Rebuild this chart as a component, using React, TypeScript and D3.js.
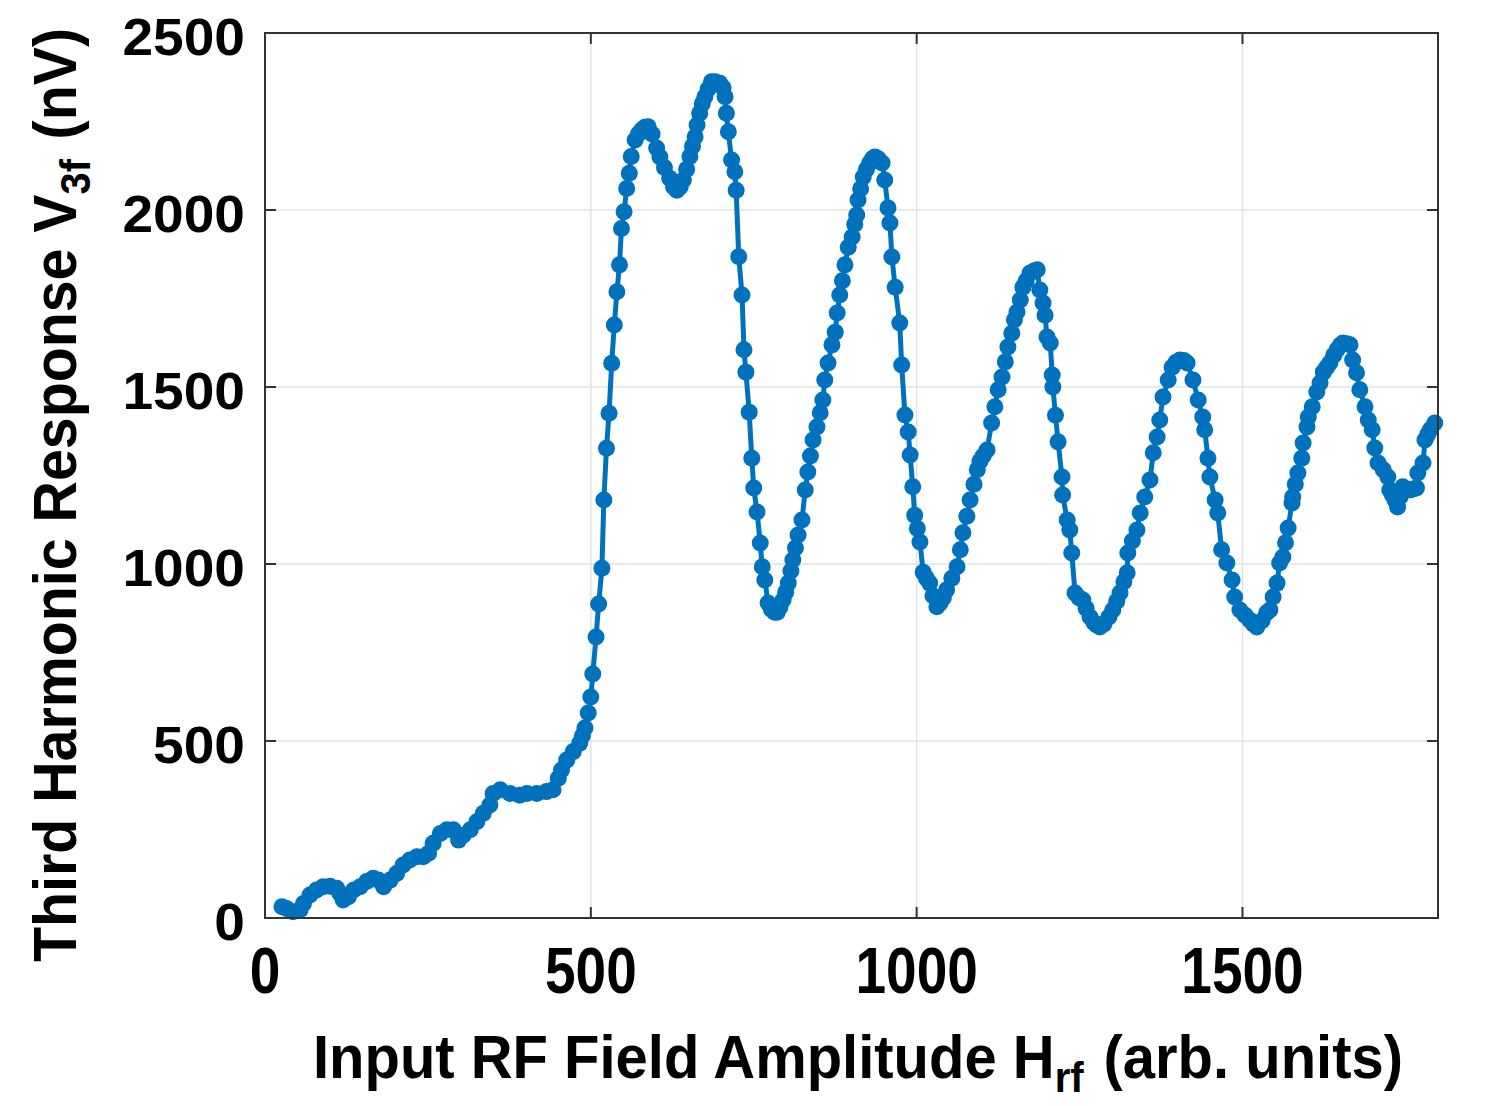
import React from 'react';
import * as d3 from 'd3';

type Pt = [number, number];

// H_rf (arb. units), V3f (nV), split by region of the curve
const lowRamp: Pt[] = [
  [26, 32], [33, 27], [43, 18], [54, 23], [59, 41], [69, 65], [79, 79], [89, 88], [100, 90],
  [110, 84], [115, 70], [120, 51], [128, 60], [136, 79], [146, 88], [156, 103], [166, 112],
  [174, 107], [182, 88], [192, 107], [202, 126], [212, 150], [222, 164], [233, 173], [243, 173],
  [251, 183], [258, 211], [269, 239], [279, 249], [289, 249], [297, 220], [304, 234], [315, 249],
  [325, 272], [335, 296], [345, 319], [350, 352], [361, 362], [376, 352], [391, 347], [402, 352],
  [417, 352], [432, 357], [442, 362], [450, 395], [455, 418], [463, 446], [473, 470], [483, 494],
];

const firstPeaks: Pt[] = [
  [487, 515], [491, 537], [496, 579], [500, 624], [503, 689], [508, 794], [512, 887], [517, 988],
  [520, 1181], [524, 1327], [528, 1426], [532, 1567], [536, 1675], [540, 1769], [544, 1845],
  [547, 1948], [551, 1995], [555, 2061], [559, 2104], [562, 2151], [568, 2198], [573, 2215],
  [578, 2226], [583, 2234], [588, 2235], [594, 2215], [601, 2175], [606, 2150], [613, 2120],
  [621, 2090], [627, 2065], [632, 2056], [637, 2065], [642, 2085], [647, 2115], [652, 2151],
  [656, 2180], [660, 2207], [663, 2240], [667, 2273], [671, 2300], [675, 2320], [680, 2342],
  [685, 2362], [691, 2362], [698, 2358], [703, 2345], [706, 2320], [708, 2273], [711, 2221],
  [716, 2141], [721, 2108], [723, 2056], [727, 1868],
];

const secondPeak: Pt[] = [
  [732, 1760], [735, 1605], [738, 1542], [743, 1429], [747, 1299], [750, 1215], [755, 1147],
  [760, 1059], [763, 992], [767, 955], [772, 890], [777, 872], [782, 864], [786, 864], [790, 878],
  [795, 898], [799, 920], [803, 946], [807, 980], [810, 1011], [814, 1045], [818, 1082], [824, 1124],
  [829, 1209], [833, 1260], [837, 1305], [841, 1350], [847, 1387], [852, 1427], [856, 1463],
  [859, 1520], [864, 1568], [870, 1619], [875, 1655], [878, 1709], [882, 1760], [886, 1800],
  [890, 1845], [895, 1895], [901, 1924], [905, 1960], [908, 1986], [910, 2028], [914, 2060],
  [918, 2093], [923, 2115], [928, 2133], [932, 2145], [936, 2150], [941, 2145], [947, 2133],
  [951, 2085], [956, 2006], [959, 1963], [962, 1867], [967, 1782], [974, 1681], [977, 1562],
  [982, 1421], [987, 1373], [990, 1308], [994, 1218], [997, 1138], [1001, 1100], [1005, 1062],
  [1010, 977], [1015, 960], [1020, 946], [1025, 910], [1031, 879],
];

const thirdPeak: Pt[] = [
  [1036, 890], [1041, 905], [1046, 927], [1054, 960], [1062, 992], [1067, 1040], [1071, 1088],
  [1077, 1135], [1082, 1181], [1088, 1225], [1093, 1266], [1097, 1290], [1102, 1305], [1108, 1322],
  [1115, 1398], [1120, 1444], [1125, 1492], [1131, 1528], [1136, 1571], [1140, 1613], [1146, 1652],
  [1150, 1690], [1154, 1712], [1159, 1746], [1163, 1782], [1168, 1800], [1174, 1822], [1180, 1828],
  [1185, 1831], [1189, 1774], [1194, 1737], [1197, 1703], [1200, 1641], [1205, 1624], [1208, 1534],
  [1209, 1500], [1213, 1420], [1217, 1345], [1223, 1246], [1224, 1195], [1231, 1124], [1235, 1096],
  [1238, 1031], [1243, 918], [1249, 905], [1255, 898], [1260, 875], [1266, 850], [1272, 835],
  [1276, 828], [1281, 822],
];

const fourthPeak: Pt[] = [
  [1287, 830], [1295, 850], [1301, 870], [1307, 895], [1312, 918], [1318, 950], [1323, 975],
  [1324, 1031], [1331, 1065], [1338, 1096], [1343, 1144], [1350, 1189], [1358, 1237], [1363, 1314],
  [1369, 1359], [1373, 1407], [1378, 1472], [1386, 1520], [1392, 1556], [1398, 1570], [1404, 1576],
  [1410, 1575], [1415, 1568], [1424, 1520], [1432, 1463], [1439, 1415], [1442, 1379], [1447, 1299],
  [1450, 1246], [1458, 1181], [1462, 1144], [1468, 1040], [1476, 1003], [1484, 955], [1488, 907],
  [1496, 870], [1504, 855], [1511, 842], [1517, 830], [1522, 822], [1530, 840], [1537, 862],
];

const fifthPeak: Pt[] = [
  [1542, 870], [1547, 907], [1553, 946], [1557, 1003], [1562, 1020], [1566, 1060], [1570, 1102],
  [1576, 1172], [1577, 1189], [1581, 1225], [1585, 1257], [1591, 1299], [1593, 1342], [1599, 1387],
  [1601, 1415], [1607, 1444], [1614, 1486], [1619, 1511], [1624, 1542], [1629, 1555], [1634, 1568],
  [1640, 1590], [1645, 1605], [1650, 1618], [1654, 1624], [1660, 1622], [1665, 1619], [1669, 1576],
  [1675, 1540], [1680, 1492], [1688, 1444], [1693, 1407], [1699, 1379], [1703, 1328], [1708, 1285],
  [1716, 1266], [1723, 1246], [1726, 1209], [1730, 1195], [1734, 1181], [1738, 1161], [1742, 1190],
  [1746, 1218], [1751, 1212], [1757, 1209], [1762, 1212], [1767, 1215], [1769, 1257], [1777, 1285],
  [1780, 1350], [1784, 1365], [1788, 1379], [1795, 1398],
];

const xTicks = [0, 500, 1000, 1500];
const yTicks = [0, 500, 1000, 1500, 2000, 2500];

const W = 1488;
const H = 1106;
const plot = { left: 265, right: 1438, top: 33, bottom: 918 };
const blue = '#0072BD';
const font = '"Liberation Sans", Arial, sans-serif';

const App = () => {
  const data = [...lowRamp, ...firstPeaks, ...secondPeak, ...thirdPeak, ...fourthPeak, ...fifthPeak];

  const x = d3.scaleLinear().domain([0, 1800]).range([plot.left, plot.right]);
  const y = d3.scaleLinear().domain([0, 2500]).range([plot.bottom, plot.top]);

  const line = d3.line<Pt>().x(d => x(d[0])).y(d => y(d[1]));
  const tick = 11;

  return (
    <svg width={W} height={H} style={{ position: 'absolute', left: 0, top: 0, background: '#fff' }}>
      {/* grid */}
      <g stroke="#e3e3e3" strokeWidth={1.5}>
        {xTicks.slice(1).map(t => (
          <line key={'gx' + t} x1={x(t)} x2={x(t)} y1={plot.top} y2={plot.bottom} />
        ))}
        {yTicks.slice(1, -1).map(t => (
          <line key={'gy' + t} x1={plot.left} x2={plot.right} y1={y(t)} y2={y(t)} />
        ))}
      </g>

      {/* data */}
      <path d={line(data) || ''} fill="none" stroke={blue} strokeWidth={5} strokeLinejoin="round" />
      <g fill={blue}>
        {data.map((d, i) => (
          <circle key={i} cx={x(d[0])} cy={y(d[1])} r={8.5} />
        ))}
      </g>

      {/* box and ticks */}
      <rect x={plot.left} y={plot.top} width={plot.right - plot.left} height={plot.bottom - plot.top}
        fill="none" stroke="#333" strokeWidth={2} />
      <g stroke="#333" strokeWidth={2}>
        {xTicks.slice(1).map(t => (
          <g key={'tx' + t}>
            <line x1={x(t)} x2={x(t)} y1={plot.bottom} y2={plot.bottom - tick} />
            <line x1={x(t)} x2={x(t)} y1={plot.top} y2={plot.top + tick} />
          </g>
        ))}
        {yTicks.slice(1, -1).map(t => (
          <g key={'ty' + t}>
            <line x1={plot.left} x2={plot.left + tick} y1={y(t)} y2={y(t)} />
            <line x1={plot.right} x2={plot.right - tick} y1={y(t)} y2={y(t)} />
          </g>
        ))}
      </g>

      {/* tick labels */}
      <g fontFamily={font} fontWeight="bold" fill="#000">
        {xTicks.map(t => (
          <text key={'lx' + t} transform={`translate(${x(t)},${993}) scale(0.86,1)`}
            textAnchor="middle" fontSize={64}>{t}</text>
        ))}
        {yTicks.map(t => (
          <text key={'ly' + t} transform={`translate(${245},${y(t) + 22}) scale(1.06,1)`}
            textAnchor="end" fontSize={52}>{t}</text>
        ))}
      </g>

      {/* axis titles */}
      <g fontFamily={font} fontWeight="bold" fill="#000" fontSize={62}>
        <text x={313} y={1078} textLength={1090} lengthAdjust="spacingAndGlyphs">
          Input RF Field Amplitude H
          <tspan fontSize={43} dy={14}>rf</tspan>
          <tspan dy={-14} dx={4}> (arb. units)</tspan>
        </text>
        <text transform="translate(76,962) rotate(-90)" x={0} y={0} textLength={934} lengthAdjust="spacingAndGlyphs">
          Third Harmonic Response V
          <tspan fontSize={43} dy={14}>3f</tspan>
          <tspan dy={-14} dx={4}> (nV)</tspan>
        </text>
      </g>
    </svg>
  );
};

export default App;
